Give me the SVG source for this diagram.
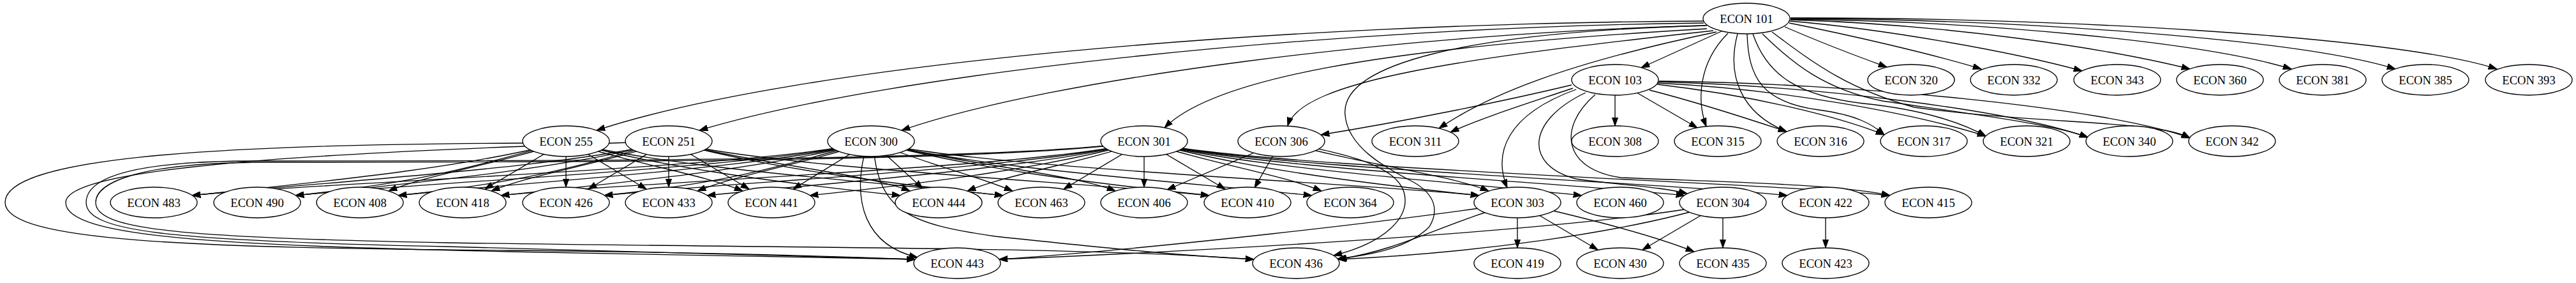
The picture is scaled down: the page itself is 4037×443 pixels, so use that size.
<svg xmlns="http://www.w3.org/2000/svg" width="4037" height="443" viewBox="0 0 4037 443">
<style>
.node ellipse{fill:#ffffff;stroke:#000000;stroke-width:1.33}
.node text{font-family:"Liberation Serif","Times New Roman",serif;font-size:18.67px;text-anchor:middle;fill:#000000}
#edges path{fill:none;stroke:#000000;stroke-width:1.33}
</style>
<defs>
<marker id="a" markerUnits="userSpaceOnUse" markerWidth="14" markerHeight="10" viewBox="0 0 14 10" refX="13.3" refY="5" orient="auto">
<path d="M0,0.3 L13.3,5 L0,9.7 z" fill="#000000" stroke="#000000" stroke-width="1"/>
</marker>
</defs>
<rect width="4037" height="443" fill="#ffffff"/>
<g id="edges" marker-end="url(#a)">
<path d="M2700,48 L2572,106"/>
<path d="M2797,42 C2850,65 2910,88 2957,105"/>
<path d="M2804,36 C2900,55 3030,85 3105,108"/>
<path d="M2805,33 C2950,45 3150,80 3263,111"/>
<path d="M2806,31 C3050,38 3300,75 3432,108"/>
<path d="M2806,30 C3100,33 3450,65 3591,108"/>
<path d="M2806,29 C3150,30 3600,60 3754,108"/>
<path d="M2806,28 C3200,27 3750,55 3913,108"/>
<path d="M2670,33 C2000,36 1250,100 935,204"/>
<path d="M2670,36 C2100,42 1400,112 1096,204"/>
<path d="M2672,40 C2200,52 1650,122 1413,204"/>
<path d="M2675,45 C2150,75 1900,125 1825,200"/>
<path d="M2685,48 C2300,90 2040,125 2018,197"/>
<path d="M2690,50 C2450,100 2330,150 2255,201"/>
<path d="M2465,138 C2400,160 2320,185 2273,207"/>
<path d="M2463,133 C2350,160 2200,190 2070,211"/>
<path d="M2531,149 L2531,197"/>
<path d="M2565,145 L2660,200"/>
<path d="M2585,141 C2660,160 2740,186 2800,206"/>
<path d="M2597,132 C2750,150 2880,182 2953,211"/>
<path d="M2598,130 C2800,140 3000,178 3112,213"/>
<path d="M2599,128 C2850,135 3150,172 3272,215"/>
<path d="M2600,127 C2900,130 3300,168 3432,216"/>
<path d="M2708,52 C2660,100 2660,160 2674,198"/>
<path d="M2723,53 C2705,120 2730,178 2800,206"/>
<path d="M2738,53 C2740,120 2760,160 2850,172 C2910,180 2935,195 2953,211"/>
<path d="M2747,53 C2770,120 2820,150 2920,162 C3020,172 3080,195 3112,213"/>
<path d="M2762,53 C2810,100 2860,140 2950,158 C3100,180 3220,195 3272,215"/>
<path d="M2777,50 C2850,105 2900,140 3000,168 C3200,195 3380,188 3432,216"/>
<path d="M887,221 C737,262 501,285 301,306"/>
<path d="M887,221 C737,262 663,285 463,306"/>
<path d="M887,221 C790,255 674,272 609,299"/>
<path d="M887,221 L760,296"/>
<path d="M887,221 L887,293"/>
<path d="M887,221 L1013,296"/>
<path d="M887,221 C984,255 1099,272 1164,299"/>
<path d="M887,221 C1037,262 1211,285 1411,306"/>
<path d="M887,221 C1037,262 1372,285 1572,306"/>
<path d="M1048,221 C898,262 501,285 301,306"/>
<path d="M1048,221 C898,262 663,285 463,306"/>
<path d="M1048,221 C898,262 824,285 624,306"/>
<path d="M1048,221 C951,255 835,272 770,299"/>
<path d="M1048,221 L922,296"/>
<path d="M1048,221 L1048,293"/>
<path d="M1048,221 L1174,296"/>
<path d="M1048,221 C1175,255 1361,272 1426,299"/>
<path d="M1048,221 C1198,262 1372,285 1572,306"/>
<path d="M1048,221 C1198,262 1695,285 1895,306"/>
<path d="M1365,221 C1215,262 501,285 301,306"/>
<path d="M1365,221 C1215,262 663,285 463,306"/>
<path d="M1365,221 C1215,262 824,285 624,306"/>
<path d="M1365,221 C1215,262 985,285 785,306"/>
<path d="M1365,221 C1215,262 1147,285 947,306"/>
<path d="M1365,221 C1270,255 1158,272 1093,299"/>
<path d="M1365,221 L1243,296"/>
<path d="M1365,221 L1446,295"/>
<path d="M1365,221 C1445,255 1522,272 1587,299"/>
<path d="M1365,221 C1493,255 1683,272 1748,299"/>
<path d="M1365,221 C1515,262 1695,285 1895,306"/>
<path d="M1365,221 C1515,262 1856,285 2056,306"/>
<path d="M1365,221 C1515,262 2118,285 2318,306"/>
<path d="M1360,221 C1330,320 1360,385 1438,403"/>
<path d="M1368,221 C1375,330 1420,350 1560,370 C1750,390 1850,400 1965,406"/>
<path d="M1793,221 C1643,262 985,285 785,306"/>
<path d="M1793,221 C1643,262 1147,285 947,306"/>
<path d="M1793,221 C1643,262 1308,285 1108,306"/>
<path d="M1793,221 C1643,262 1469,285 1269,306"/>
<path d="M1793,221 C1696,255 1581,272 1516,299"/>
<path d="M1793,221 L1667,296"/>
<path d="M1793,221 L1793,293"/>
<path d="M1793,221 L1920,296"/>
<path d="M1793,221 C1890,255 2006,272 2071,299"/>
<path d="M1793,221 C1943,262 2118,285 2318,306"/>
<path d="M1793,221 C1943,262 2279,285 2479,306"/>
<path d="M1793,221 C1943,262 2440,285 2640,306"/>
<path d="M1793,221 C1943,262 2601,285 2801,306"/>
<path d="M1793,221 C1943,262 2762,285 2962,306"/>
<path d="M2008,221 L1829,297"/>
<path d="M2008,221 L1966,294"/>
<path d="M2008,221 C2119,255 2268,272 2333,299"/>
<path d="M2008,221 C2100,240 2185,255 2200,300 C2212,340 2170,380 2090,400"/>
<path d="M2470,140 C2360,180 2340,240 2362,294"/>
<path d="M2485,145 C2390,190 2390,260 2470,280 C2540,290 2600,292 2644,303"/>
<path d="M2500,148 C2440,200 2450,265 2540,278 C2700,285 2880,288 2962,306"/>
<path d="M2675,40 C2300,50 2100,100 2108,180 C2112,230 2170,262 2215,285 C2250,305 2255,330 2240,355 C2210,385 2160,398 2096,405"/>
<path d="M2378,341 L2378,388"/>
<path d="M2378,317 L2504,391"/>
<path d="M2378,317 C2480,340 2590,368 2655,394"/>
<path d="M2700,317 L2574,391"/>
<path d="M2700,341 L2700,388"/>
<path d="M2378,317 C2200,345 1800,390 1566,406"/>
<path d="M2378,317 C2260,350 2200,390 2097,406"/>
<path d="M2700,317 C2500,360 1900,392 1566,406"/>
<path d="M2700,317 C2550,365 2300,397 2097,406"/>
<path d="M2861,341 L2861,388"/>
<path d="M819,224 C300,226 8,250 8,317 C8,378 300,388 800,392 C1100,395 1300,401 1434,406"/>
<path d="M1048,221 C600,236 103,255 103,317 C103,372 350,384 800,394 C1100,399 1300,403 1434,406"/>
<path d="M1793,221 C1600,250 1000,252 400,252 C200,252 135,280 135,317 C135,362 260,377 700,386 C1100,395 1300,402 1434,406"/>
<path d="M1793,221 C1600,252 1000,254 420,254 C220,254 150,285 150,317 C150,358 270,372 700,380 C1200,388 1700,386 1965,406"/>
</g>
<g id="n101" class="node"><ellipse cx="2737" cy="29" rx="68" ry="24"/><text x="2737" y="35.5">ECON 101</text></g>
<g id="n103" class="node"><ellipse cx="2531" cy="125" rx="68" ry="24"/><text x="2531" y="131.5">ECON 103</text></g>
<g id="n320" class="node"><ellipse cx="2995" cy="125" rx="68" ry="24"/><text x="2995" y="131.5">ECON 320</text></g>
<g id="n332" class="node"><ellipse cx="3156" cy="125" rx="68" ry="24"/><text x="3156" y="131.5">ECON 332</text></g>
<g id="n343" class="node"><ellipse cx="3318" cy="125" rx="68" ry="24"/><text x="3318" y="131.5">ECON 343</text></g>
<g id="n360" class="node"><ellipse cx="3479" cy="125" rx="68" ry="24"/><text x="3479" y="131.5">ECON 360</text></g>
<g id="n381" class="node"><ellipse cx="3640" cy="125" rx="68" ry="24"/><text x="3640" y="131.5">ECON 381</text></g>
<g id="n385" class="node"><ellipse cx="3801" cy="125" rx="68" ry="24"/><text x="3801" y="131.5">ECON 385</text></g>
<g id="n393" class="node"><ellipse cx="3963" cy="125" rx="68" ry="24"/><text x="3963" y="131.5">ECON 393</text></g>
<g id="n255" class="node"><ellipse cx="887" cy="221" rx="68" ry="24"/><text x="887" y="227.5">ECON 255</text></g>
<g id="n251" class="node"><ellipse cx="1048" cy="221" rx="68" ry="24"/><text x="1048" y="227.5">ECON 251</text></g>
<g id="n300" class="node"><ellipse cx="1365" cy="221" rx="68" ry="24"/><text x="1365" y="227.5">ECON 300</text></g>
<g id="n301" class="node"><ellipse cx="1793" cy="221" rx="68" ry="24"/><text x="1793" y="227.5">ECON 301</text></g>
<g id="n306" class="node"><ellipse cx="2008" cy="221" rx="68" ry="24"/><text x="2008" y="227.5">ECON 306</text></g>
<g id="n311" class="node"><ellipse cx="2218" cy="221" rx="68" ry="24"/><text x="2218" y="227.5">ECON 311</text></g>
<g id="n308" class="node"><ellipse cx="2531" cy="221" rx="68" ry="24"/><text x="2531" y="227.5">ECON 308</text></g>
<g id="n315" class="node"><ellipse cx="2692" cy="221" rx="68" ry="24"/><text x="2692" y="227.5">ECON 315</text></g>
<g id="n316" class="node"><ellipse cx="2853" cy="221" rx="68" ry="24"/><text x="2853" y="227.5">ECON 316</text></g>
<g id="n317" class="node"><ellipse cx="3015" cy="221" rx="68" ry="24"/><text x="3015" y="227.5">ECON 317</text></g>
<g id="n321" class="node"><ellipse cx="3176" cy="221" rx="68" ry="24"/><text x="3176" y="227.5">ECON 321</text></g>
<g id="n340" class="node"><ellipse cx="3337" cy="221" rx="68" ry="24"/><text x="3337" y="227.5">ECON 340</text></g>
<g id="n342" class="node"><ellipse cx="3498" cy="221" rx="68" ry="24"/><text x="3498" y="227.5">ECON 342</text></g>
<g id="n483" class="node"><ellipse cx="241" cy="317" rx="68" ry="24"/><text x="241" y="323.5">ECON 483</text></g>
<g id="n490" class="node"><ellipse cx="403" cy="317" rx="68" ry="24"/><text x="403" y="323.5">ECON 490</text></g>
<g id="n408" class="node"><ellipse cx="564" cy="317" rx="68" ry="24"/><text x="564" y="323.5">ECON 408</text></g>
<g id="n418" class="node"><ellipse cx="725" cy="317" rx="68" ry="24"/><text x="725" y="323.5">ECON 418</text></g>
<g id="n426" class="node"><ellipse cx="887" cy="317" rx="68" ry="24"/><text x="887" y="323.5">ECON 426</text></g>
<g id="n433" class="node"><ellipse cx="1048" cy="317" rx="68" ry="24"/><text x="1048" y="323.5">ECON 433</text></g>
<g id="n441" class="node"><ellipse cx="1209" cy="317" rx="68" ry="24"/><text x="1209" y="323.5">ECON 441</text></g>
<g id="n444" class="node"><ellipse cx="1471" cy="317" rx="68" ry="24"/><text x="1471" y="323.5">ECON 444</text></g>
<g id="n463" class="node"><ellipse cx="1632" cy="317" rx="68" ry="24"/><text x="1632" y="323.5">ECON 463</text></g>
<g id="n406" class="node"><ellipse cx="1793" cy="317" rx="68" ry="24"/><text x="1793" y="323.5">ECON 406</text></g>
<g id="n410" class="node"><ellipse cx="1955" cy="317" rx="68" ry="24"/><text x="1955" y="323.5">ECON 410</text></g>
<g id="n364" class="node"><ellipse cx="2116" cy="317" rx="68" ry="24"/><text x="2116" y="323.5">ECON 364</text></g>
<g id="n303" class="node"><ellipse cx="2378" cy="317" rx="68" ry="24"/><text x="2378" y="323.5">ECON 303</text></g>
<g id="n460" class="node"><ellipse cx="2539" cy="317" rx="68" ry="24"/><text x="2539" y="323.5">ECON 460</text></g>
<g id="n304" class="node"><ellipse cx="2700" cy="317" rx="68" ry="24"/><text x="2700" y="323.5">ECON 304</text></g>
<g id="n422" class="node"><ellipse cx="2861" cy="317" rx="68" ry="24"/><text x="2861" y="323.5">ECON 422</text></g>
<g id="n415" class="node"><ellipse cx="3022" cy="317" rx="68" ry="24"/><text x="3022" y="323.5">ECON 415</text></g>
<g id="n443" class="node"><ellipse cx="1500" cy="412" rx="68" ry="24"/><text x="1500" y="418.5">ECON 443</text></g>
<g id="n436" class="node"><ellipse cx="2031" cy="412" rx="68" ry="24"/><text x="2031" y="418.5">ECON 436</text></g>
<g id="n419" class="node"><ellipse cx="2378" cy="412" rx="68" ry="24"/><text x="2378" y="418.5">ECON 419</text></g>
<g id="n430" class="node"><ellipse cx="2539" cy="412" rx="68" ry="24"/><text x="2539" y="418.5">ECON 430</text></g>
<g id="n435" class="node"><ellipse cx="2700" cy="412" rx="68" ry="24"/><text x="2700" y="418.5">ECON 435</text></g>
<g id="n423" class="node"><ellipse cx="2861" cy="412" rx="68" ry="24"/><text x="2861" y="418.5">ECON 423</text></g>
</svg>
